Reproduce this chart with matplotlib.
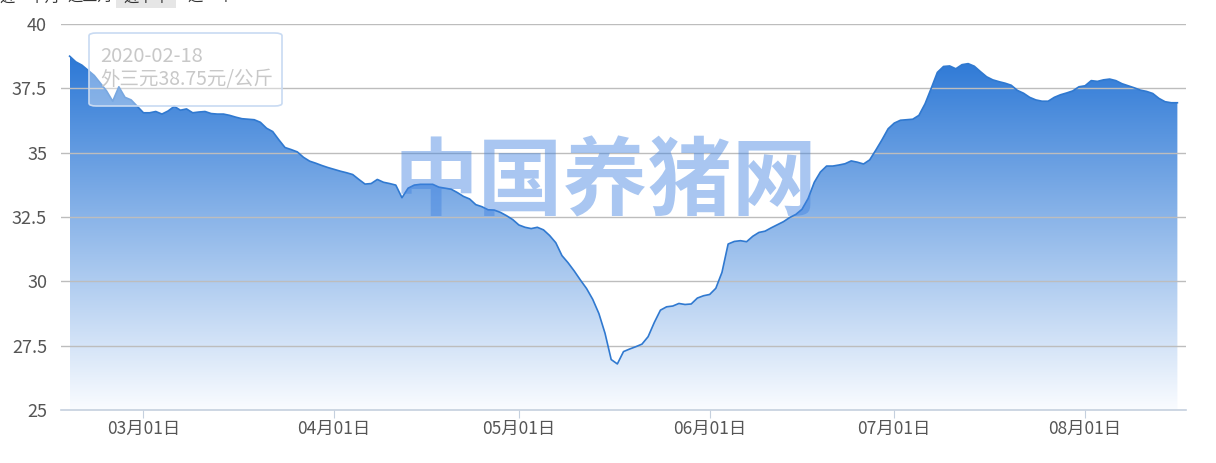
import numpy as np
import pandas as pd
import matplotlib
matplotlib.use("Agg")
import matplotlib.pyplot as plt
import matplotlib.dates as mdates
from matplotlib.patches import FancyBboxPatch, Rectangle

plt.rcParams['font.family'] = ['Noto Sans CJK SC', 'DejaVu Sans']

# daily price of 外三元 (元/公斤), from 2020-02-18
start_date = "2020-02-18"
prices = [
    38.75, 38.53, 38.40, 38.20, 38.00, 37.70, 37.40, 37.00, 37.56, 37.15,
    37.05, 36.80, 36.55, 36.55, 36.60, 36.50, 36.62, 36.80, 36.65, 36.70,
    36.55, 36.58, 36.60, 36.52, 36.50, 36.50, 36.45, 36.38, 36.32, 36.30,
    36.28, 36.18, 35.95, 35.82, 35.50, 35.20, 35.12, 35.03, 34.82, 34.67,
    34.59, 34.50, 34.42, 34.35, 34.28, 34.22, 34.15, 33.96, 33.78, 33.80,
    33.96, 33.85, 33.80, 33.74, 33.25, 33.62, 33.74, 33.77, 33.77, 33.77,
    33.66, 33.62, 33.58, 33.45, 33.30, 33.20, 32.98, 32.90, 32.78, 32.77,
    32.68, 32.55, 32.40, 32.19, 32.10, 32.05, 32.10, 32.00, 31.78, 31.50,
    31.00, 30.72, 30.40, 30.05, 29.72, 29.30, 28.75, 27.98, 26.96, 26.79,
    27.27, 27.37, 27.46, 27.56, 27.85, 28.40, 28.88, 29.01, 29.04, 29.14,
    29.10, 29.12, 29.35, 29.44, 29.49, 29.73, 30.35, 31.45, 31.55, 31.58,
    31.54, 31.75, 31.90, 31.95, 32.08, 32.20, 32.32, 32.48, 32.60, 32.80,
    33.22, 33.85, 34.25, 34.48, 34.48, 34.52, 34.57, 34.68, 34.63, 34.56,
    34.72, 35.10, 35.50, 35.93, 36.15, 36.26, 36.28, 36.30, 36.45, 36.90,
    37.50, 38.12, 38.35, 38.37, 38.26, 38.42, 38.46, 38.36, 38.15, 37.95,
    37.83, 37.76, 37.70, 37.62, 37.42, 37.31, 37.15, 37.05, 37.00, 37.00,
    37.15, 37.25, 37.32, 37.40, 37.56, 37.60, 37.80, 37.77, 37.83, 37.86,
    37.80, 37.68, 37.60, 37.52, 37.43, 37.38, 37.30, 37.11, 36.98, 36.94,
    36.94,
]
dates = pd.date_range(start_date, periods=len(prices), freq="D")
tick_dates = pd.to_datetime(["2020-03-01", "2020-04-01", "2020-05-01",
                             "2020-06-01", "2020-07-01", "2020-08-01"])
tick_labels = ["03月01日", "04月01日", "05月01日", "06月01日", "07月01日", "08月01日"]
y_ticks = [25, 27.5, 30, 32.5, 35, 37.5, 40]
y_labels = ["25", "27.5", "30", "32.5", "35", "37.5", "40"]

W, H = 1216, 463
fig = plt.figure(figsize=(W / 100, H / 100), dpi=100)
ax = fig.add_axes([61 / W, 1 - 410 / H, (1186 - 61) / W, (410 - 24) / H])

x = mdates.date2num(dates)
ymin, ymax = 25, 40
ax.set_ylim(ymin, ymax)
ax.set_xlim(x[0] - 1.4, x[-1] + 1.4)

# gradient area
top_c = np.array([44, 120, 214]) / 255
bot_c = np.array([250, 252, 255]) / 255
top_v = max(prices)
n = 256
t = np.linspace(0, 1, n)[:, None]
grad = top_c * (1 - t) + bot_c * t
grad = grad[:, None, :].repeat(2, axis=1)
im = ax.imshow(grad, extent=[x[0], x[-1], ymin, top_v], aspect="auto",
               origin="upper", zorder=2, interpolation="bilinear")
poly = ax.fill_between(x, prices, ymin, color="none", lw=0)
clip = poly.get_paths()[0]
im.set_clip_path(clip, transform=ax.transData)
ax.plot(x, prices, color="#3079d0", lw=1.2, zorder=3)

# grid and axes
for v in y_ticks[1:]:
    ax.axhline(v, color="#bdbdbd", lw=1, zorder=2.5)
ax.set_yticks(y_ticks)
ax.set_yticklabels(y_labels, color="#555555", fontsize=13)
ax.tick_params(axis="y", length=0, pad=10)
ax.set_xticks(mdates.date2num(tick_dates))
ax.set_xticklabels(tick_labels, color="#555555", fontsize=12.5)
ax.tick_params(axis="x", length=6, color="#c5d0de", pad=1)
for s in ("top", "right", "left"):
    ax.spines[s].set_visible(False)
ax.spines["bottom"].set_color("#c5d0de")
ax.spines["bottom"].set_linewidth(1.2)
ax.spines["bottom"].set_zorder(4)

# watermark
fig.text(605 / W, 1 - 183 / H, "中国养猪网", fontsize=61, fontweight="heavy",
         color=(0.25, 0.51, 0.88), alpha=0.45, ha="center", va="center", zorder=5)

# tooltip
box = FancyBboxPatch((89 / W, 1 - 106 / H), (282 - 89) / W, (106 - 33) / H,
                     boxstyle="round,pad=0,rounding_size=0.006",
                     transform=fig.transFigure, facecolor=(1, 1, 1, 0.35),
                     edgecolor="#c8daf2", lw=1.2, zorder=6)
fig.patches.append(box)
fig.text(100 / W, 1 - 57 / H, "2020-02-18", fontsize=14.5, color="#c8c8c8",
         va="center", zorder=7)
fig.text(100 / W, 1 - 80 / H, "外三元38.75元/公斤", fontsize=14, color="#c8c8c8",
         va="center", zorder=7)

# cropped range buttons at the very top
fig.patches.append(Rectangle((116 / W, 1 - 8 / H), 60 / W, 8 / H,
                             transform=fig.transFigure, facecolor="#e6e6e6",
                             edgecolor="none", zorder=1))
for cx, lab in [(30, "近一个月"), (90, "近三月"), (146, "近半年"), (210, "近一年")]:
    fig.text(cx / W, 1 + 3 / H, lab, fontsize=11, color="#333333",
             ha="center", va="center", zorder=2)

fig.savefig("out.png", dpi=100)
